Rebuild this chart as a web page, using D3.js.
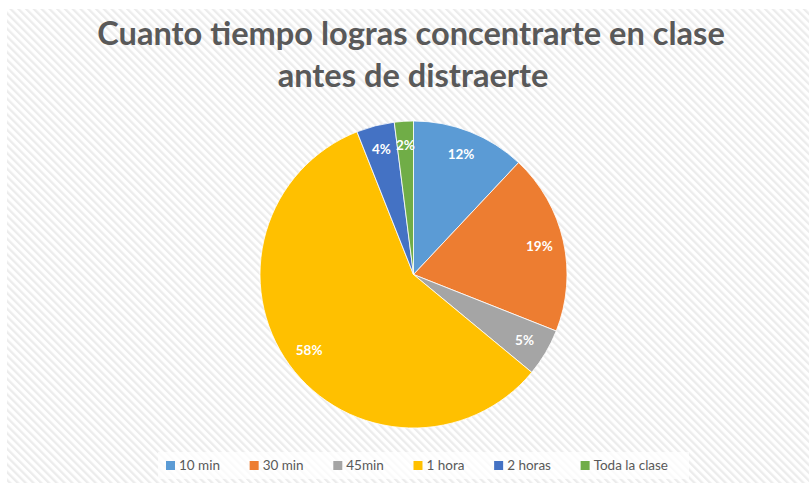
<!DOCTYPE html>
<html>
<head>
<meta charset="utf-8">
<script src="https://cdn.jsdelivr.net/npm/d3@7"></script>
<style>
  html, body { margin: 0; padding: 0; background: #ffffff; }
  svg { display: block; }
</style>
</head>
<body>
<svg id="chart" width="809" height="483"></svg>
<script>
// Survey: how long students concentrate in class before getting distracted
const categories = ["10 min", "30 min", "45min", "1 hora", "2 horas", "Toda la clase"];
const percents = [12, 19, 5, 58, 4, 2];
const colors = ["#5B9BD5", "#ED7D31", "#A5A5A5", "#FFC000", "#4472C4", "#70AD47"];
const titleLines = ["Cuanto tiempo logras concentrarte en clase", "antes de distraerte"];

const W = 809, H = 483;
const svg = d3.select("#chart");

// hatched chart-area background
const defs = svg.append("defs");
const pat = defs.append("pattern")
  .attr("id", "hatch")
  .attr("patternUnits", "userSpaceOnUse")
  .attr("width", 5.5).attr("height", 5.5)
  .attr("patternTransform", "rotate(-45)");
pat.append("rect").attr("width", 5.5).attr("height", 5.5).attr("fill", "#ffffff");
pat.append("rect").attr("x", 0).attr("width", 2.3).attr("height", 5.5).attr("fill", "#ececec");

svg.append("rect").attr("x", 0).attr("y", 0).attr("width", W).attr("height", H).attr("fill", "#ffffff");
svg.append("rect").attr("x", 7).attr("y", 9).attr("width", W - 7).attr("height", H - 9).attr("fill", "url(#hatch)");

// title, sized to its line width
const title = svg.append("g");
const t1 = title.append("text")
  .attr("x", 411).attr("y", 45)
  .attr("text-anchor", "middle")
  .attr("font-family", "Lato, 'Open Sans', sans-serif")
  .attr("font-weight", "bold")
  .attr("fill", "#595959")
  .attr("font-size", 30)
  .text(titleLines[0]);
const w1 = t1.node().getComputedTextLength();
const fs = 30 * 628 / w1;
t1.attr("font-size", fs);
title.append("text")
  .attr("x", 413).attr("y", 87)
  .attr("text-anchor", "middle")
  .attr("font-family", "Lato, 'Open Sans', sans-serif")
  .attr("font-weight", "bold")
  .attr("fill", "#595959")
  .attr("font-size", fs)
  .text(titleLines[1]);

// pie
const cx = 413.5, cy = 274.5, R = 153.5;
const pie = d3.pie().sort(null).value(d => d)(percents);
const arc = d3.arc().innerRadius(0).outerRadius(R);
const labelArc = d3.arc().innerRadius(129).outerRadius(129);

const g = svg.append("g").attr("transform", `translate(${cx},${cy})`);
g.selectAll("path.slice")
  .data(pie)
  .join("path")
  .attr("class", "slice")
  .attr("d", arc)
  .attr("fill", (d, i) => colors[i])
  .attr("stroke", "#ffffff")
  .attr("stroke-width", 0.8);

g.selectAll("text.lbl")
  .data(pie)
  .join("text")
  .attr("class", "lbl")
  .attr("transform", d => `translate(${labelArc.centroid(d)})`)
  .attr("text-anchor", "middle")
  .attr("dy", "0.35em")
  .attr("font-family", "Lato, 'Open Sans', sans-serif")
  .attr("font-weight", "bold")
  .attr("font-size", 13.5)
  .attr("fill", "#ffffff")
  .text(d => d.data + "%");

// legend
const legend = svg.append("g");
legend.append("rect")
  .attr("x", 158).attr("y", 452).attr("width", 531).attr("height", 27)
  .attr("fill", "#ffffff").attr("fill-opacity", 0.75);

const items = legend.selectAll("g.item").data(categories).join("g").attr("class", "item");
items.append("rect")
  .attr("width", 9).attr("height", 9)
  .attr("y", 461)
  .attr("fill", (d, i) => colors[i]);
items.append("text")
  .attr("y", 470)
  .attr("font-family", "Lato, 'Open Sans', sans-serif")
  .attr("font-size", 13.5)
  .attr("fill", "#595959")
  .text(d => d);

// lay out legend entries left to right
const widths = [];
items.selectAll("text").each(function () { widths.push(this.getComputedTextLength()); });
const sq = 9, gapIn = 4, target = 502;
const sumItems = d3.sum(widths) + categories.length * (sq + gapIn);
const gapOut = (target - sumItems) / (categories.length - 1);
let x = 166;
items.each(function (d, i) {
  const it = d3.select(this);
  it.select("rect").attr("x", x);
  it.select("text").attr("x", x + sq + gapIn);
  x += sq + gapIn + widths[i] + gapOut;
});
</script>
</body>
</html>
